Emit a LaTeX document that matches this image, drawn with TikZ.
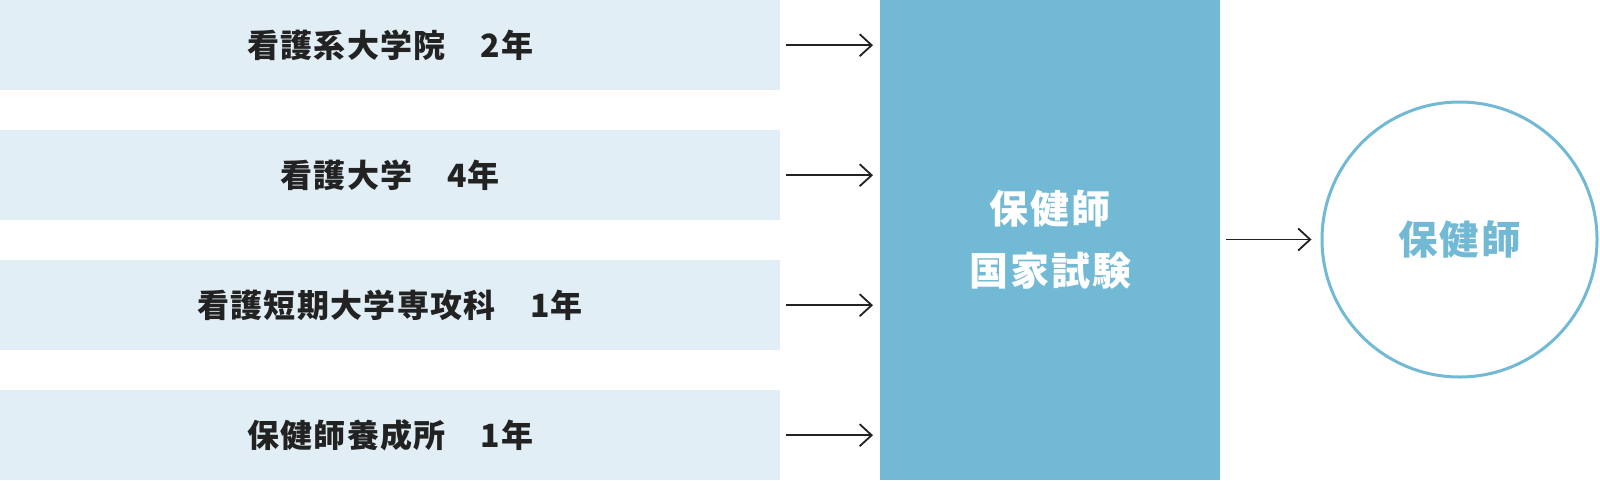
\documentclass[tikz,border=0pt]{standalone}
\usepackage{fontspec}
\usetikzlibrary{arrows.meta}
\newfontfamily\jp{Noto Sans CJK JP}[LetterSpace=4]
\newfontfamily\jpb{Noto Sans CJK JP}[LetterSpace=5]
\definecolor{boxlight}{HTML}{E1EEF5}
\definecolor{boxmid}{HTML}{71B9D4}
\definecolor{txtdark}{HTML}{222222}
\definecolor{arrdark}{HTML}{222222}
\tikzset{
  srcbox/.style={fill=boxlight, draw=none, minimum width=780pt, minimum height=90pt, inner sep=0pt, anchor=north west,
    font=\jp\bfseries\fontsize{32}{36}\selectfont, text=txtdark},
  exambox/.style={fill=boxmid, draw=none, minimum width=340pt, minimum height=480pt, inner sep=0pt, anchor=north west,
    font=\jpb\bfseries\fontsize{39}{62}\selectfont, text=white, align=center},
  goal/.style={circle, draw=boxmid, line width=3pt, minimum size=275pt, inner sep=0pt,
    font=\jpb\bfseries\fontsize{39.5}{46}\selectfont, text=boxmid},
  arr/.style={draw=arrdark, line width=1.8pt, -{Straight Barb[length=12pt,width=22pt,line width=1.8pt]}}
}
\begin{document}
\begin{tikzpicture}[x=1pt,y=1pt]
\useasboundingbox (0,0) rectangle (1600,-480);
\node[srcbox] (b1) at (0,0) {看護系大学院　2年};
\node[srcbox] (b2) at (0,-130) {看護大学　4年};
\node[srcbox] (b3) at (0,-260) {看護短期大学専攻科　1年};
\node[srcbox] (b4) at (0,-390) {保健師養成所　1年};
\node[exambox] (mid) at (880,0) {保健師\\国家試験};
\node[goal] (res) at (1459.5,-239.5) {保健師};
\foreach \b in {b1,b2,b3,b4}{
  \draw[arr, shorten <=6pt, shorten >=7pt] (\b.east) -- (\b.east -| mid.west);
}
\draw[arr, shorten <=6pt, shorten >=9pt] (mid.east |- res.west) -- (res.west);
\end{tikzpicture}
\end{document}
